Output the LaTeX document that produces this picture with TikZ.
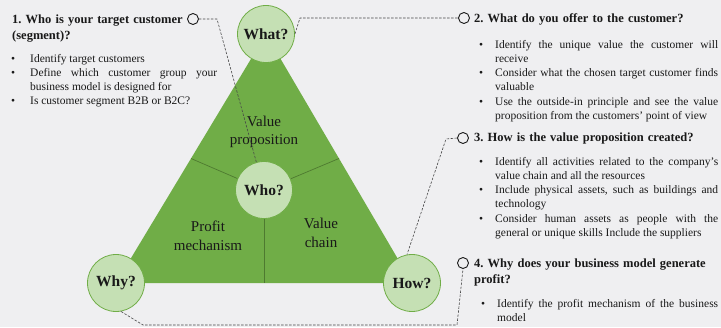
\documentclass[tikz,border=0pt]{standalone}
\usepackage{fontspec}
\setmainfont{Liberation Serif}
\usetikzlibrary{calc}

\definecolor{bggray}{RGB}{239,239,241}
\definecolor{trigreen}{RGB}{112,173,71}
\definecolor{circgreen}{RGB}{197,224,180}
\definecolor{linegreen}{RGB}{78,122,48}
\definecolor{ink}{RGB}{25,25,25}

\frenchspacing
\newlength{\bulhang}
\setlength{\bulhang}{16pt}
\newcommand{\tightpar}{\tolerance=9999 \hyphenpenalty=10000 \exhyphenpenalty=10000\relax}
% one bullet item: hanging paragraph, bullet in the hang
\newcommand{\bitem}[1]{\hangindent=\bulhang\hangafter=0\noindent\llap{\makebox[\bulhang][l]{\textbullet}}#1\par}

\tikzset{
  bubble/.style={circle, draw=trigreen, line width=0.8pt, fill=circgreen, minimum size=57pt, inner sep=0pt, text=ink, font=\fontsize{15.5}{18}\selectfont\bfseries},
  hole/.style={circle, draw=ink, line width=0.9pt, minimum size=11pt, inner sep=0pt},
  head/.style={anchor=base west, inner sep=0pt, text width=250pt, align=left, text=ink, font=\fontsize{12.5}{15.5}\selectfont\bfseries},
  bullets/.style={anchor=base west, inner sep=0pt, text width=#1, align=justify, text=ink, font=\fontsize{11.5}{14.3}\selectfont},
  sector/.style={align=center, text=ink, font=\fontsize{15}{18.5}\selectfont},
  divider/.style={draw=linegreen, line width=0.7pt},
  leader/.style={draw=ink!80, line width=0.6pt, dash pattern=on 2.5pt off 1.5pt}
}

\begin{document}
\begin{tikzpicture}[x=1pt,y=-1pt]
  \fill[bggray] (0,0) rectangle (721,327);
  \useasboundingbox (0,0) rectangle (721,327);

  % pyramid
  \coordinate (apex) at (266,34);
  \coordinate (left) at (116,283);
  \coordinate (right) at (412,283);
  \coordinate (mid) at (264,190);
  \fill[trigreen] (apex) -- (left) -- (right) -- cycle;
  \draw[divider] (mid) -- ($(apex)!0.5!(left)$);
  \draw[divider] (mid) -- ($(apex)!0.5!(right)$);
  \draw[divider] (mid) -- ($(left)!0.5!(right)$);

  \node[sector] (vp) at (264,132) {Value\\proposition};
  \node[sector] (pm) at (208,236) {Profit\\mechanism};
  \node[sector] (vc) at (321,233) {Value\\chain};

  \node[bubble] (what) at (apex) {What?};
  \node[bubble] (who) at (mid) {Who?};
  \node[bubble] (why) at (left) {Why?};
  \node[bubble] (how) at (right) {How?};

  % questions
  \node[head] (h1) at (12,23.5) {1. Who is your target customer\\(segment)?};
  \node[hole] (c1) at (193,19) {};
  \node[bullets=206pt] (b1) at (11,62) {\tightpar\setlength{\bulhang}{19pt}%
    \bitem{Identify target customers}
    \bitem{Define which customer group your\linebreak business model is designed for}
    \bitem{Is customer segment B2B or B2C?}};

  \node[head] (h2) at (474,22.5) {2. What do you offer to the customer?};
  \node[hole] (c2) at (464,18) {};
  \node[bullets=239pt] (b2) at (479,48) {\tightpar%
    \bitem{Identify the unique value the customer will\linebreak receive}
    \bitem{Consider what the chosen target customer finds\linebreak valuable}
    \bitem{Use the outside-in principle and see the value\linebreak proposition from the customers' point of view}};

  \node[head] (h3) at (474,141.5) {3. How is the value proposition created?};
  \node[hole] (c3) at (463,138) {};
  \node[bullets=239pt] (b3) at (479,165) {\tightpar%
    \bitem{Identify all activities related to the company's\linebreak value chain and all the resources}
    \bitem{Include physical assets, such as buildings and\linebreak technology}
    \bitem{Consider human assets as people with the\linebreak general or unique skills Include the suppliers}};

  \node[head] (h4) at (474,267.5) {4. Why does your business model generate\\profit?};
  \node[hole] (c4) at (463,263) {};
  \node[bullets=237pt] (b4) at (481,307) {\tightpar%
    \bitem{Identify the profit mechanism of the business\linebreak model}};

  % leaders
  \coordinate (k1) at (217,19);
  \coordinate (k2) at (300,18);
  \coordinate (k3) at (446,139);
  \coordinate (k4a) at (143,325);
  \coordinate (k4b) at (457,325);
  \draw[leader] (c1.east) -- (k1) -- (who);
  \draw[leader] (what.east) -- (k2) -- (c2.west);
  \draw[leader] (c3.west) -- (k3) -- (how.100);
  \draw[leader] (why.-80) -- (k4a) -- (k4b) -- (c4.south);
\end{tikzpicture}
\end{document}
